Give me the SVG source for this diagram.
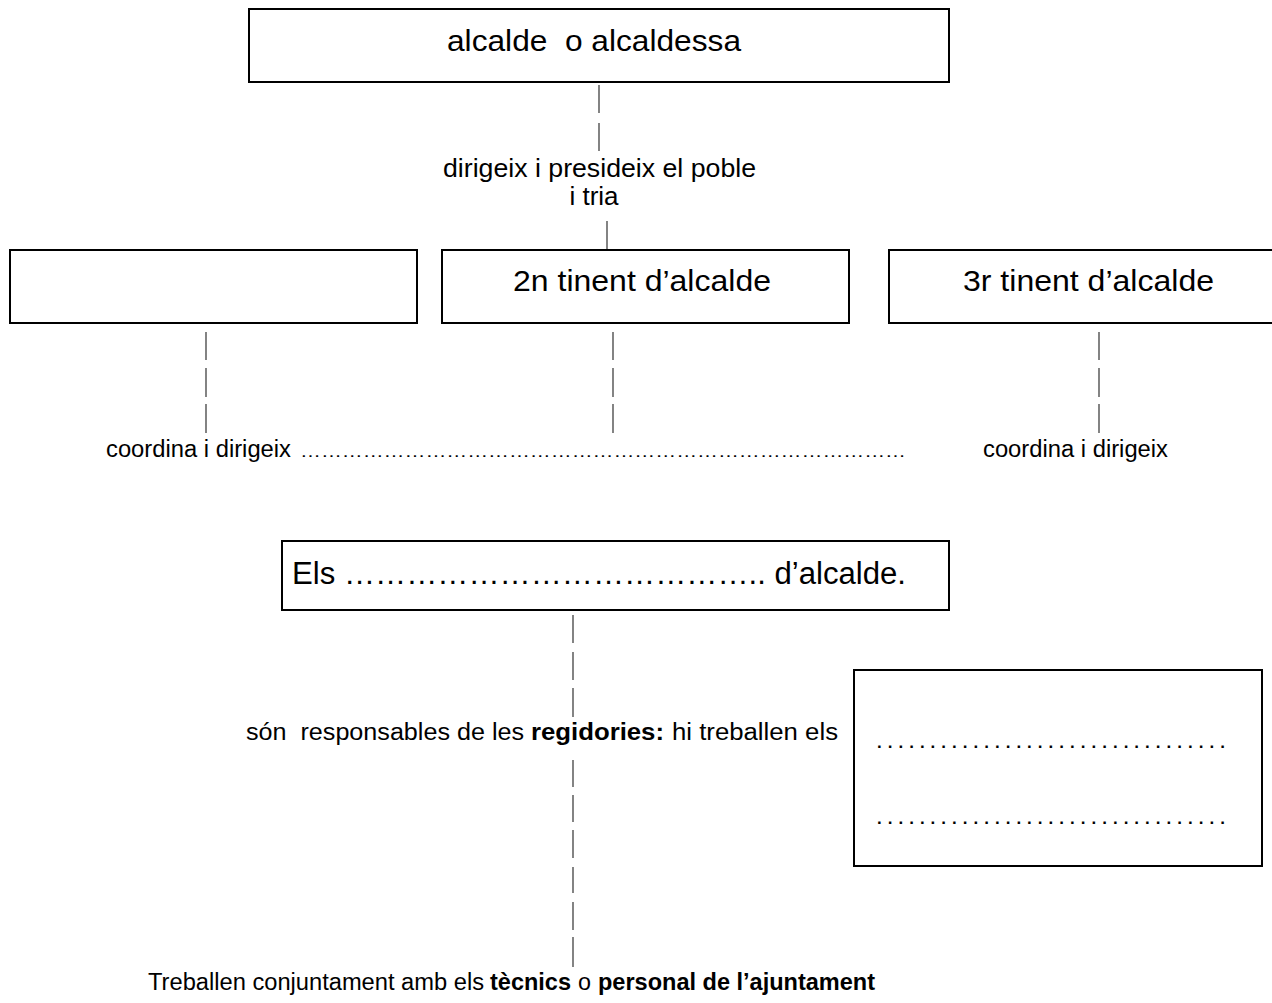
<svg xmlns="http://www.w3.org/2000/svg" width="1272" height="1003" viewBox="0 0 1272 1003">
<style>
  .box { fill: #ffffff; stroke: #000000; stroke-width: 2; }
  .t { font-family: "Liberation Sans", Arial, sans-serif; fill: #000000; }
  .seg { stroke: #333333; stroke-width: 1.2; fill: none; }
  .b { font-weight: bold; }
  .dots { font-family: "Liberation Sans", Arial, sans-serif; fill: #000000; font-size: 17px; font-weight: bold; letter-spacing: 6px; }
</style>
<rect width="1272" height="1003" fill="#ffffff"/>
<g id="connectors">
  <path class="seg" d="M599 85V113 M599 123V151 M607 221V250"/>
  <path class="seg" d="M206 332V360 M206 368V397 M206 404V433"/>
  <path class="seg" d="M613 332V360 M613 368V397 M613 404V433"/>
  <path class="seg" d="M1099 332V360 M1099 368V397 M1099 404V433"/>
  <path class="seg" d="M573 615V643 M573 652V680 M573 688V717"/>
  <path class="seg" d="M573 760V787 M573 795V822 M573 830V858 M573 867V893 M573 902V930 M573 937V967"/>
</g>
<g id="node-alcalde">
  <rect class="box" x="249" y="9" width="700" height="73"/>
  <text class="t" x="447" y="51" font-size="30" textLength="294" lengthAdjust="spacingAndGlyphs" xml:space="preserve">alcalde  o alcaldessa</text>
</g>
<g id="label-dirigeix">
  <text class="t" x="443" y="177" font-size="26" textLength="313" lengthAdjust="spacingAndGlyphs">dirigeix i presideix el poble</text>
  <text class="t" x="594" y="205" font-size="26" text-anchor="middle">i tria</text>
</g>
<g id="node-tinent1">
  <rect class="box" x="10" y="250" width="407" height="73"/>
</g>
<g id="node-tinent2">
  <rect class="box" x="442" y="250" width="407" height="73"/>
  <text class="t" x="513" y="291" font-size="30" textLength="258" lengthAdjust="spacingAndGlyphs">2n tinent d’alcalde</text>
</g>
<g id="node-tinent3">
  <rect class="box" x="889" y="250" width="400" height="73"/>
  <text class="t" x="963" y="291" font-size="30" textLength="251" lengthAdjust="spacingAndGlyphs">3r tinent d’alcalde</text>
</g>
<g id="label-coordina">
  <text class="t" x="106" y="457" font-size="23" textLength="185" lengthAdjust="spacingAndGlyphs">coordina i dirigeix</text>
  <text class="t" x="300" y="457" font-size="16" textLength="606" lengthAdjust="spacingAndGlyphs">……………………………………………………………………………</text>
  <text class="t" x="983" y="457" font-size="23" textLength="185" lengthAdjust="spacingAndGlyphs">coordina i dirigeix</text>
</g>
<g id="node-els">
  <rect class="box" x="282" y="541" width="667" height="69"/>
  <text class="t" x="292" y="584" font-size="31" textLength="614" lengthAdjust="spacingAndGlyphs">Els ………………………………….. d’alcalde.</text>
</g>
<g id="label-responsables">
  <text class="t" x="246" y="740" font-size="23" textLength="278" lengthAdjust="spacingAndGlyphs" xml:space="preserve">són  responsables de les</text>
  <text class="t b" x="531" y="740" font-size="23" textLength="133" lengthAdjust="spacingAndGlyphs">regidories:</text>
  <text class="t" x="672" y="740" font-size="23" textLength="166" lengthAdjust="spacingAndGlyphs">hi treballen els</text>
</g>
<g id="node-regidors">
  <rect class="box" x="854" y="670" width="408" height="196"/>
  <text class="dots" x="877" y="748">.................................</text>
  <text class="dots" x="877" y="824">.................................</text>
</g>
<g id="label-treballen">
  <text class="t" x="148" y="990" font-size="23.5" textLength="336" lengthAdjust="spacingAndGlyphs">Treballen conjuntament amb els</text>
  <text class="t b" x="490" y="990" font-size="23.5" textLength="81" lengthAdjust="spacingAndGlyphs">tècnics</text>
  <text class="t" x="578" y="990" font-size="23.5" textLength="13" lengthAdjust="spacingAndGlyphs">o</text>
  <text class="t b" x="598" y="990" font-size="23.5" textLength="277" lengthAdjust="spacingAndGlyphs">personal de l’ajuntament</text>
</g>
</svg>
